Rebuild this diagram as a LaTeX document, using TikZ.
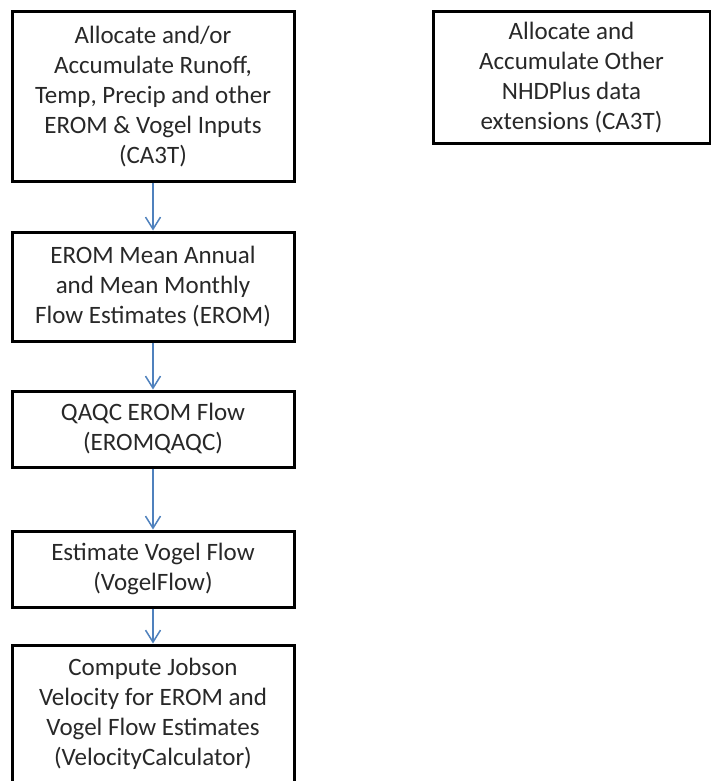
\documentclass[tikz,border=0pt]{standalone}
\usepackage{fontspec}
\setmainfont{Carlito}
\usetikzlibrary{arrows.meta}
\definecolor{arrowblue}{RGB}{79,129,189}
\definecolor{textgray}{RGB}{40,40,40}
\begin{document}
\begin{tikzpicture}[x=1pt,y=-1pt,
  box/.style={draw=black, line width=3pt, align=center, text=textgray,
    font=\fontsize{25}{30}\selectfont, inner sep=0pt},
  flow/.style={draw=arrowblue, line width=1.5pt, -{Straight Barb[length=12pt,width=15pt]}}]
\useasboundingbox (0,0) rectangle (711,781);
\node[box, minimum width=282pt, minimum height=169pt] (b1) at (153,96.5)
  {Allocate and/or\\Accumulate Runoff,\\Temp, Precip and other\\EROM \& Vogel Inputs\\(CA3T)};
\node[box, minimum width=282pt, minimum height=109pt] (b2) at (153,286.5)
  {EROM Mean Annual\\and Mean Monthly\\Flow Estimates (EROM)};
\node[box, minimum width=282pt, minimum height=76pt] (b3) at (153,429)
  {QAQC EROM Flow\\(EROMQAQC)};
\node[box, minimum width=282pt, minimum height=76pt] (b4) at (153,569)
  {Estimate Vogel Flow\\(VogelFlow)};
\node[box, minimum width=282pt, minimum height=138pt] (b5) at (153,714)
  {Compute Jobson\\Velocity for EROM and\\Vogel Flow Estimates\\(VelocityCalculator)};
\node[box, minimum width=277pt, minimum height=131pt] (r1) at (571.5,77.5)
  {Allocate and\\Accumulate Other\\NHDPlus data\\extensions (CA3T)};
\draw[flow] (b1.south) -- (b2.north);
\draw[flow] (b2.south) -- (b3.north);
\draw[flow] (b3.south) -- (b4.north);
\draw[flow] (b4.south) -- (b5.north);
\end{tikzpicture}
\end{document}
